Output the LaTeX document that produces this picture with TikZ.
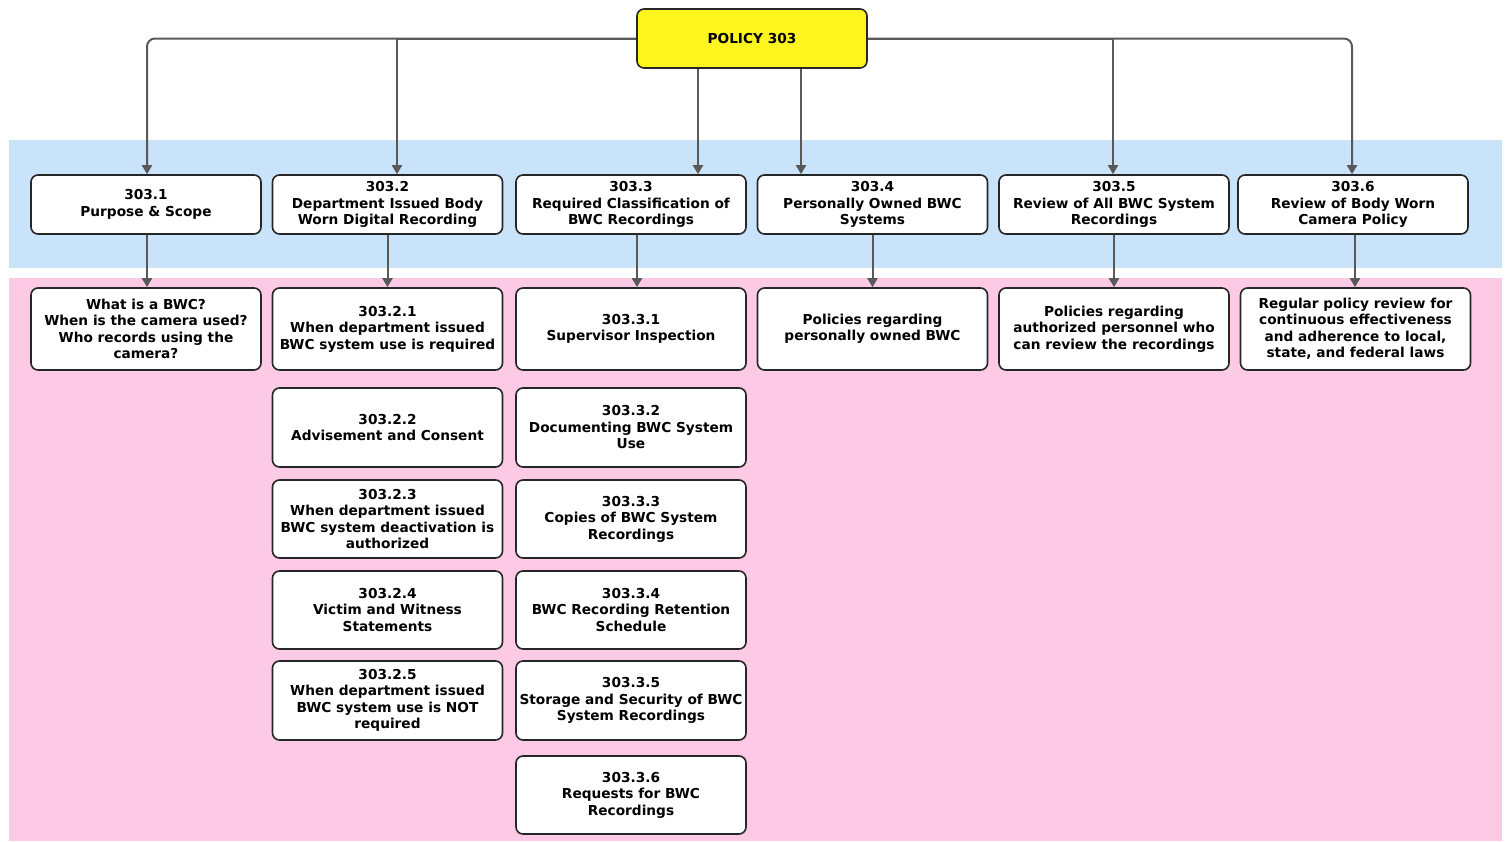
\documentclass[tikz,border=0pt]{standalone}
\usepackage{fontspec}
\setmainfont{DejaVu Sans}
\usetikzlibrary{arrows.meta}

\definecolor{bandblue}{HTML}{C9E3FA}
\definecolor{bandpink}{HTML}{FDCAE6}
\definecolor{rootyellow}{HTML}{FFF51E}
\definecolor{linegray}{HTML}{595959}

\tikzset{
  box/.style={draw=black!85, line width=1.6pt, rounded corners=7pt, fill=white,
    minimum width=230pt, align=center, inner sep=0pt,
    font=\bfseries\fontsize{13.7}{16.5}\selectfont},
  arr/.style={draw=linegray, line width=2pt,
    -{Triangle[length=9pt,width=10pt]}}
}

\begin{document}
\begin{tikzpicture}[x=1pt,y=-1pt]
   \useasboundingbox (0,0) rectangle (1507,841);
   \fill[bandblue] (9,140) rectangle (1502,268);
   \fill[bandpink] (9,278) rectangle (1502,841);

   \node[box, fill=rootyellow, minimum height=59pt] (root) at (752,38.5) {POLICY 303};

   % sections
   \node[box, minimum height=59pt] (s1) at (146,204.5) {303.1\\Purpose \& Scope};
   \node[box, minimum height=59pt] (s2) at (387.5,204.5) {303.2\\Department Issued Body\\Worn Digital Recording};
   \node[box, minimum height=59pt] (s3) at (631,204.5) {303.3\\Required Classification of\\BWC Recordings};
   \node[box, minimum height=59pt] (s4) at (872.5,204.5) {303.4\\Personally Owned BWC\\Systems};
   \node[box, minimum height=59pt] (s5) at (1114,204.5) {303.5\\Review of All BWC System\\Recordings};
   \node[box, minimum height=59pt] (s6) at (1353,204.5) {303.6\\Review of Body Worn\\Camera Policy};

   % first row below
   \node[box, minimum height=82pt] (d1) at (146,329) {What is a BWC?\\When is the camera used?\\Who records using the\\camera?};
   \node[box, minimum height=82pt] (d21) at (387.5,329) {303.2.1\\When department issued\\BWC system use is required};
   \node[box, minimum height=82pt] (d31) at (631,329) {303.3.1\\Supervisor Inspection};
   \node[box, minimum height=82pt] (d4) at (872.5,329) {Policies regarding\\personally owned BWC};
   \node[box, minimum height=82pt] (d5) at (1114,329) {Policies regarding\\authorized personnel who\\can review the recordings};
   \node[box, minimum height=82pt] (d6) at (1355.5,329) {Regular policy review for\\continuous effectiveness\\and adherence to local,\\state, and federal laws};

   % 303.2 column
   \node[box, minimum height=79pt] (d22) at (387.5,427.5) {303.2.2\\Advisement and Consent};
   \node[box, minimum height=78pt] (d23) at (387.5,519) {303.2.3\\When department issued\\BWC system deactivation is\\authorized};
   \node[box, minimum height=78pt] (d24) at (387.5,610) {303.2.4\\Victim and Witness\\Statements};
   \node[box, minimum height=79pt] (d25) at (387.5,700.5) {303.2.5\\When department issued\\BWC system use is NOT\\required};

   % 303.3 column
   \node[box, minimum height=79pt] (d32) at (631,427.5) {303.3.2\\Documenting BWC System\\Use};
   \node[box, minimum height=78pt] (d33) at (631,519) {303.3.3\\Copies of BWC System\\Recordings};
   \node[box, minimum height=78pt] (d34) at (631,610) {303.3.4\\BWC Recording Retention\\Schedule};
   \node[box, minimum height=79pt] (d35) at (631,700.5) {303.3.5\\Storage and Security of BWC\\System Recordings};
   \node[box, minimum height=78pt] (d36) at (631,795) {303.3.6\\Requests for BWC\\Recordings};

   % root to sections
   \draw[arr, rounded corners=8pt] (root.west) -| ([xshift=1pt]s1.north);
   \draw[arr] (root.west) -| ([xshift=9.5pt]s2.north);
   \draw[arr] ([xshift=-54pt]root.south) -- ([xshift=-54pt]root.south |- s3.north);
   \draw[arr] ([xshift=49pt]root.south) -- ([xshift=49pt]root.south |- s4.north);
   \draw[arr] (root.east) -| ([xshift=-1pt]s5.north);
   \draw[arr, rounded corners=8pt] (root.east) -| ([xshift=-1pt]s6.north);

   % sections to details
   \draw[arr] ([xshift=1pt]s1.south) -- ([xshift=1pt]s1.south |- d1.north);
   \draw[arr] (s2.south) -- (d21.north);
   \draw[arr] ([xshift=6pt]s3.south) -- ([xshift=6pt]s3.south |- d31.north);
   \draw[arr] (s4.south) -- (d4.north);
   \draw[arr] (s5.south) -- (d5.north);
   \draw[arr] ([xshift=2pt]s6.south) -- ([xshift=2pt]s6.south |- d6.north);
\end{tikzpicture}
\end{document}
